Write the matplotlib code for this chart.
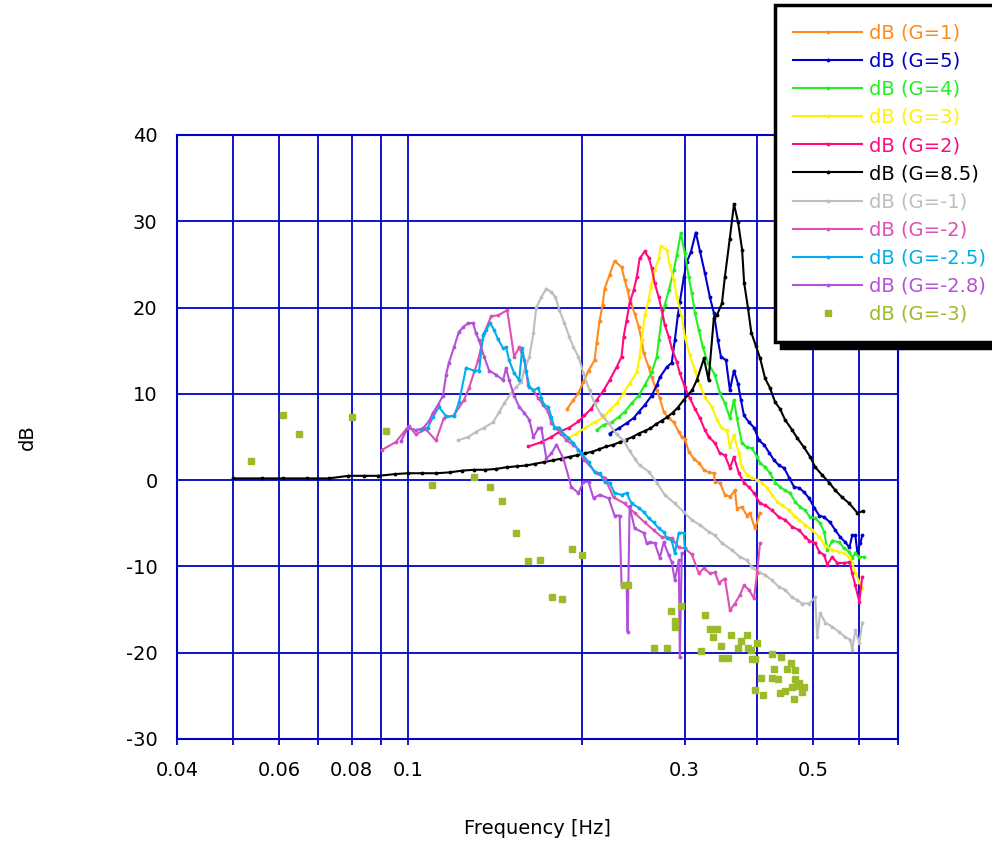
import matplotlib
matplotlib.use('Agg')
import matplotlib.pyplot as plt

plt.rcParams['font.family'] = ['DejaVu Sans']
plt.rcParams['axes.unicode_minus'] = False

# ---- dados: frequencia [Hz] e ganho [dB] de cada ensaio ----
freq_g1 = [0.1884, 0.1930, 0.1969, 0.2008, 0.2049, 0.2099, 0.2116, 0.2141, 0.2167, 0.2184,
           0.2228, 0.2272, 0.2336, 0.2365, 0.2393, 0.2412, 0.2461, 0.2500, 0.2530, 0.2551,
           0.2602, 0.2633, 0.2687, 0.2719, 0.2762, 0.2818, 0.2874, 0.2932, 0.2967, 0.3003,
           0.3051, 0.3112, 0.3175, 0.3239, 0.3304, 0.3370, 0.3384, 0.3452, 0.3521, 0.3592,
           0.3664, 0.3693, 0.3767, 0.3843, 0.3889, 0.3968, 0.4048]
db_g1 = [8.3, 9.3, 10.1, 11.4, 12.7, 13.9, 15.9, 18.5, 20.3, 22.2,
         23.8, 25.4, 24.7, 23.2, 22.0, 20.9, 19.3, 17.8, 16.2, 14.7,
         13.1, 11.9, 10.4, 9.5, 7.9, 7.2, 6.7, 5.6, 5.0, 4.8,
         3.3, 2.5, 2.0, 1.2, 0.9, 0.8, -0.2, -0.3, -1.7, -1.9,
         -1.2, -3.3, -3.1, -4.1, -3.8, -5.6, -3.8]

freq_g5 = [0.2228, 0.2309, 0.2383, 0.2451, 0.2500, 0.2561, 0.2633, 0.2687, 0.2719, 0.2795,
           0.2851, 0.2886, 0.2921, 0.2944, 0.2991, 0.3027, 0.3075, 0.3137, 0.3188, 0.3252,
           0.3317, 0.3370, 0.3425, 0.3466, 0.3536, 0.3592, 0.3649, 0.3708, 0.3752, 0.3798,
           0.3874, 0.3952, 0.4032, 0.4113, 0.4196, 0.4281, 0.4366, 0.4454, 0.4543, 0.4634,
           0.4728, 0.4823, 0.4920, 0.5019, 0.5120, 0.5223, 0.5349, 0.5457, 0.5566, 0.5679,
           0.5770, 0.5838, 0.5909, 0.5956, 0.6028, 0.6075]
db_g5 = [5.4, 6.0, 6.6, 7.2, 7.9, 8.7, 9.8, 11.0, 11.9, 13.1,
         13.6, 16.2, 19.1, 20.6, 23.5, 25.3, 26.4, 28.7, 26.6, 24.0,
         21.2, 19.4, 16.2, 14.3, 13.9, 10.4, 12.7, 11.2, 9.3, 7.5,
         6.7, 6.1, 4.6, 4.1, 3.2, 2.3, 1.7, 1.4, 0.3, -0.8,
         -0.9, -1.4, -2.1, -3.2, -4.1, -4.3, -4.9, -5.8, -6.6, -7.2,
         -7.8, -6.4, -6.4, -8.3, -7.3, -6.4]

freq_g4 = [0.2116, 0.2175, 0.2245, 0.2309, 0.2364, 0.2431, 0.2500, 0.2561, 0.2633, 0.2687,
           0.2708, 0.2740, 0.2773, 0.2818, 0.2874, 0.2909, 0.2955, 0.3003, 0.3051, 0.3087,
           0.3125, 0.3175, 0.3226, 0.3291, 0.3384, 0.3452, 0.3521, 0.3592, 0.3649, 0.3693,
           0.3767, 0.3843, 0.3920, 0.4000, 0.4048, 0.4130, 0.4213, 0.4298, 0.4384, 0.4472,
           0.4561, 0.4653, 0.4747, 0.4842, 0.4939, 0.5039, 0.5140, 0.5223, 0.5286, 0.5391,
           0.5544, 0.5656, 0.5770, 0.5838, 0.5909, 0.6004, 0.6122]
db_g4 = [5.8, 6.4, 6.7, 7.3, 7.9, 8.9, 9.8, 11.0, 12.5, 14.3,
         16.2, 18.8, 20.3, 22.0, 24.3, 26.1, 28.6, 26.3, 23.5, 21.7,
         19.4, 17.4, 15.4, 13.6, 12.2, 10.1, 8.9, 7.2, 9.3, 7.2,
         4.3, 3.8, 3.7, 2.7, 2.0, 1.5, 0.8, -0.3, -0.8, -1.2,
         -1.5, -2.5, -3.1, -3.5, -4.3, -4.4, -5.0, -6.0, -8.1, -7.0,
         -7.2, -7.9, -8.3, -9.0, -8.5, -8.9, -8.9]

freq_g3 = [0.1892, 0.1953, 0.2016, 0.2099, 0.2175, 0.2228, 0.2291, 0.2355, 0.2412, 0.2481,
           0.2510, 0.2530, 0.2561, 0.2602, 0.2623, 0.2665, 0.2708, 0.2729, 0.2795, 0.2829,
           0.2874, 0.2909, 0.2967, 0.3003, 0.3063, 0.3125, 0.3188, 0.3252, 0.3343, 0.3411,
           0.3479, 0.3550, 0.3592, 0.3649, 0.3723, 0.3767, 0.3843, 0.3920, 0.4000, 0.4080,
           0.4163, 0.4246, 0.4332, 0.4418, 0.4543, 0.4634, 0.4728, 0.4842, 0.4978, 0.5120,
           0.5244, 0.5391, 0.5544, 0.5656, 0.5770, 0.5838, 0.5909, 0.6004, 0.6075]
db_g3 = [4.9, 5.4, 6.0, 6.7, 7.3, 8.1, 8.9, 10.1, 11.2, 12.5,
         14.3, 16.2, 19.1, 20.9, 22.4, 24.3, 25.7, 27.1, 26.7, 24.9,
         23.2, 21.2, 18.9, 16.6, 14.5, 12.7, 11.0, 9.6, 8.5, 7.0,
         6.0, 5.8, 3.8, 5.2, 3.1, 1.5, 0.6, 0.3, 0.0, -0.3,
         -0.9, -1.7, -2.5, -2.9, -3.5, -4.1, -4.6, -5.2, -5.8, -6.6,
         -7.6, -8.1, -8.3, -8.5, -8.9, -9.6, -10.8, -11.8, -12.5]

freq_g2 = [0.1613, 0.1699, 0.1768, 0.1825, 0.1899, 0.1969, 0.2016, 0.2073, 0.2116, 0.2175,
           0.2228, 0.2291, 0.2336, 0.2355, 0.2383, 0.2412, 0.2451, 0.2481, 0.2510, 0.2561,
           0.2602, 0.2633, 0.2665, 0.2708, 0.2740, 0.2773, 0.2818, 0.2851, 0.2909, 0.2944,
           0.3003, 0.3063, 0.3125, 0.3188, 0.3252, 0.3304, 0.3384, 0.3452, 0.3521, 0.3592,
           0.3649, 0.3723, 0.3798, 0.3874, 0.3952, 0.4048, 0.4130, 0.4246, 0.4366, 0.4472,
           0.4597, 0.4728, 0.4842, 0.4920, 0.5039, 0.5120, 0.5223, 0.5286, 0.5391, 0.5500,
           0.5656, 0.5770, 0.5838, 0.5909, 0.6004, 0.6075]
db_g2 = [3.9, 4.4, 5.0, 5.6, 6.1, 6.8, 7.5, 8.3, 9.3, 10.4,
         11.6, 13.1, 14.3, 16.6, 18.5, 20.5, 22.0, 23.5, 25.7, 26.5,
         25.8, 24.6, 22.8, 21.2, 19.7, 18.0, 16.6, 15.3, 13.7, 12.4,
         10.8, 9.5, 8.3, 7.2, 5.8, 5.0, 4.3, 3.1, 2.9, 1.4,
         2.7, 0.8, -0.3, -0.8, -1.5, -2.7, -2.9, -3.5, -4.3, -4.6,
         -5.4, -5.8, -6.6, -7.0, -7.3, -8.3, -8.7, -9.8, -8.9, -9.6,
         -9.6, -9.5, -10.8, -12.2, -14.1, -11.2]

freq_g85 = [0.050, 0.056, 0.061, 0.067, 0.073, 0.079, 0.084, 0.089, 0.095, 0.100,
            0.106, 0.112, 0.118, 0.124, 0.130, 0.136, 0.142, 0.148, 0.154, 0.160,
            0.166, 0.172, 0.178, 0.184, 0.190, 0.196, 0.202, 0.208, 0.214, 0.220,
            0.226, 0.232, 0.238, 0.244, 0.250, 0.256, 0.262, 0.268, 0.274, 0.280,
            0.286, 0.292, 0.299, 0.309, 0.315, 0.324, 0.330,
            0.337, 0.341, 0.348, 0.352, 0.359, 0.365, 0.371, 0.377, 0.380, 0.386,
            0.391, 0.398, 0.405, 0.413, 0.421, 0.430, 0.438, 0.447, 0.460, 0.469,
            0.482, 0.494, 0.504, 0.518, 0.533, 0.546, 0.561, 0.577, 0.596, 0.608]
db_g85 = [0.2, 0.2, 0.2, 0.2, 0.2, 0.5, 0.5, 0.5, 0.7, 0.8,
          0.8, 0.8, 0.9, 1.1, 1.2, 1.2, 1.3, 1.5, 1.6, 1.7,
          1.9, 2.1, 2.3, 2.5, 2.7, 2.9, 3.1, 3.3, 3.6, 3.9,
          4.1, 4.4, 4.7, 5.0, 5.4, 5.7, 6.0, 6.5, 6.9, 7.3,
          7.8, 8.4, 9.3, 10.4, 11.6, 14.1, 11.6,
          18.8, 19.1, 20.5, 23.5, 28.0, 32.0, 29.9, 26.7, 22.9, 19.9,
          17.1, 15.6, 14.1, 11.8, 10.7, 9.0, 8.3, 7.0, 5.8, 4.9,
          3.8, 2.7, 1.5, 0.6, -0.3, -1.2, -2.0, -2.7, -3.8, -3.6]

freq_gm1 = [0.1220, 0.1270, 0.1311, 0.1354, 0.1403, 0.1437, 0.1466, 0.1507, 0.1538, 0.1569,
            0.1588, 0.1620, 0.1646, 0.1665, 0.1699, 0.1733, 0.1768, 0.1797, 0.1825, 0.1862,
            0.1899, 0.1930, 0.1969, 0.2008, 0.2057, 0.2099, 0.2158, 0.2219, 0.2291, 0.2355,
            0.2412, 0.2461, 0.2510, 0.2602, 0.2687, 0.2773, 0.2886, 0.2991, 0.3087, 0.3188,
            0.3304, 0.3384, 0.3479, 0.3620, 0.3738, 0.3843, 0.3920, 0.4032, 0.4130, 0.4246,
            0.4366, 0.4472, 0.4597, 0.4690, 0.4784, 0.4920, 0.5039, 0.5080, 0.5140, 0.5244,
            0.5391, 0.5544, 0.5679, 0.5793, 0.5838, 0.5909, 0.6004, 0.6075]
db_gm1 = [4.6, 5.0, 5.6, 6.1, 6.7, 7.9, 8.9, 10.1, 10.8, 11.4,
          12.7, 14.3, 17.0, 20.0, 21.2, 22.2, 21.8, 21.2, 19.7, 18.2,
          16.6, 15.4, 14.3, 12.4, 10.4, 8.9, 7.5, 6.6, 5.3, 4.6,
          3.4, 2.5, 1.7, 1.0, -0.3, -1.7, -2.7, -3.7, -4.6, -5.2,
          -6.0, -6.4, -7.3, -8.1, -8.9, -9.3, -10.1, -10.7, -11.0, -11.6,
          -12.4, -12.7, -13.6, -13.9, -14.3, -14.3, -13.6, -18.2, -15.4, -16.5,
          -17.0, -17.6, -18.2, -18.5, -19.7, -17.4, -18.9, -16.5]

freq_gm2 = [0.0902, 0.0953, 0.1004, 0.1032, 0.1074, 0.1118, 0.1154, 0.1201, 0.1250, 0.1275,
            0.1322, 0.1354, 0.1392, 0.1431, 0.1484, 0.1525, 0.1556, 0.1588, 0.1613, 0.1646,
            0.1679, 0.1712, 0.1747, 0.1768, 0.1804, 0.1840, 0.1877, 0.1930, 0.1969, 0.2016,
            0.2116, 0.2184, 0.2263, 0.2364, 0.2461, 0.2561, 0.2654, 0.2740, 0.2851, 0.2932,
            0.3003, 0.3087, 0.3175, 0.3239, 0.3317, 0.3384, 0.3438, 0.3521, 0.3592, 0.3664,
            0.3738, 0.3798, 0.3874, 0.3952, 0.4000, 0.4048]
db_gm2 = [3.5, 4.4, 6.3, 5.3, 5.9, 4.6, 7.2, 7.5, 9.3, 10.7,
          13.9, 17.0, 19.0, 19.1, 19.7, 14.3, 15.4, 13.9, 11.0, 10.4,
          9.5, 8.7, 7.9, 6.6, 6.0, 5.4, 4.6, 4.1, 3.5, 2.3,
          0.8, 0.3, -2.0, -2.7, -3.8, -4.9, -5.8, -6.6, -6.7, -7.8,
          -7.9, -8.6, -10.8, -10.2, -10.8, -10.7, -11.9, -11.4, -15.1, -14.3,
          -13.3, -12.2, -12.7, -13.7, -10.8, -7.3]

freq_gm25 = [0.1053, 0.1083, 0.1105, 0.1131, 0.1164, 0.1201, 0.1225, 0.1260, 0.1301, 0.1327,
             0.1348, 0.1364, 0.1386, 0.1409, 0.1431, 0.1460, 0.1477, 0.1495, 0.1525, 0.1556,
             0.1575, 0.1600, 0.1620, 0.1646, 0.1679, 0.1699, 0.1719, 0.1747, 0.1768, 0.1789,
             0.1825, 0.1855, 0.1892, 0.1930, 0.1969, 0.1992, 0.2049, 0.2099, 0.2141, 0.2184,
             0.2228, 0.2272, 0.2336, 0.2383, 0.2431, 0.2500, 0.2551, 0.2602, 0.2654, 0.2708,
             0.2762, 0.2795, 0.2851, 0.2886, 0.2932, 0.2991, 0.3003]
db_gm25 = [5.8, 6.1, 7.3, 8.5, 7.4, 7.4, 9.0, 13.0, 12.7, 12.7,
           16.8, 17.4, 18.2, 17.4, 16.3, 15.3, 15.4, 13.9, 12.4, 11.6,
           15.3, 12.7, 10.8, 10.4, 10.7, 9.5, 8.7, 8.5, 7.3, 6.1,
           6.1, 5.4, 4.9, 4.3, 3.5, 3.1, 2.1, 0.9, 0.8, -0.2,
           -0.3, -1.5, -1.7, -1.5, -2.7, -3.2, -3.7, -4.4, -4.9, -5.6,
           -6.0, -6.7, -7.0, -8.5, -6.1, -6.1, -7.9]

freq_gm28 = [0.0973, 0.1000, 0.1032, 0.1062, 0.1087, 0.1105, 0.1127, 0.1150, 0.1164, 0.1177,
             0.1201, 0.1225, 0.1245, 0.1270, 0.1296, 0.1311, 0.1327, 0.1354, 0.1381, 0.1420,
             0.1460, 0.1477, 0.1495, 0.1525, 0.1556, 0.1588, 0.1620, 0.1646, 0.1679, 0.1699,
             0.1733, 0.1768, 0.1804, 0.1855, 0.1914, 0.1969, 0.2008, 0.2049, 0.2090, 0.2141,
             0.2219, 0.2272, 0.2318, 0.2336, 0.2383, 0.2393, 0.2412, 0.2461, 0.2551, 0.2581,
             0.2612, 0.2665, 0.2719, 0.2762, 0.2818, 0.2851, 0.2886, 0.2932, 0.2944, 0.2967]
db_gm28 = [4.5, 6.1, 5.8, 6.0, 6.8, 7.8, 8.7, 9.8, 12.2, 13.6,
           15.4, 17.2, 17.7, 18.2, 18.2, 17.0, 16.2, 14.3, 12.7, 12.2,
           11.6, 13.0, 11.6, 9.8, 8.5, 7.8, 7.0, 5.0, 6.0, 6.1,
           2.5, 3.1, 4.1, 2.5, -0.8, -1.5, -0.2, -0.2, -2.1, -1.7,
           -2.1, -4.1, -4.1, -12.2, -12.2, -17.6, -3.0, -5.6, -6.1, -7.3,
           -7.2, -7.3, -9.0, -7.2, -8.7, -9.5, -11.6, -9.3, -20.5, -8.5]

freq_gm3 = [0.0537, 0.0610, 0.0650, 0.0800, 0.0916, 0.1100, 0.1301, 0.1387, 0.1454, 0.1538,
            0.1613, 0.1692, 0.1775, 0.1847, 0.1921, 0.2000, 0.2355, 0.2393, 0.2654, 0.2795,
            0.2840, 0.2886, 0.2886, 0.2955, 0.3200, 0.3252, 0.3317, 0.3357, 0.3411, 0.3465,
            0.3479, 0.3564, 0.3606, 0.3708, 0.3752, 0.3843, 0.3859, 0.3905, 0.3920, 0.3968,
            0.3968, 0.4000, 0.4064, 0.4097, 0.4246, 0.4246, 0.4280, 0.4349, 0.4384, 0.4401,
            0.4472, 0.4508, 0.4579, 0.4597, 0.4634, 0.4653, 0.4653, 0.4690, 0.4728, 0.4784,
            0.4823]
db_gm3 = [2.2, 7.5, 5.4, 7.3, 5.7, -0.6, 0.4, -0.8, -2.4, -6.1,
          -9.4, -9.2, -13.6, -13.8, -8.0, -8.7, -12.2, -12.2, -19.4, -19.4,
          -15.2, -16.3, -17.0, -14.6, -19.8, -15.6, -17.3, -18.2, -17.3, -19.2,
          -20.6, -20.6, -18.0, -19.4, -18.6, -18.0, -19.4, -19.7, -20.7, -20.7,
          -24.3, -18.9, -22.9, -24.9, -20.2, -22.9, -21.9, -23.1, -24.7, -20.5,
          -24.4, -21.9, -21.2, -24.0, -25.4, -22.0, -23.1, -23.8, -23.5, -24.6,
          -24.0]

# eixo x: posicoes das linhas de grade e rotulos
x_grade = [0.04, 0.05, 0.06, 0.07, 0.08, 0.09, 0.1, 0.2, 0.3, 0.4, 0.5, 0.6, 0.7]
x_rotulos = ['0.04', '', '0.06', '', '0.08', '', '0.1', '', '0.3', '', '0.5', '', '']
y_grade = [40, 30, 20, 10, 0, -10, -20, -30]

series = [
    ('dB (G=1)', freq_g1, db_g1, '#FF8A1E'),
    ('dB (G=5)', freq_g5, db_g5, '#0000CC'),
    ('dB (G=4)', freq_g4, db_g4, '#22F022'),
    ('dB (G=3)', freq_g3, db_g3, '#FFF200'),
    ('dB (G=2)', freq_g2, db_g2, '#FF0A80'),
    ('dB (G=8.5)', freq_g85, db_g85, '#000000'),
    ('dB (G=-1)', freq_gm1, db_gm1, '#BEBEBE'),
    ('dB (G=-2)', freq_gm2, db_gm2, '#DD50B5'),
    ('dB (G=-2.5)', freq_gm25, db_gm25, '#00AEEF'),
    ('dB (G=-2.8)', freq_gm28, db_gm28, '#B550D8'),
]
cor_gm3 = '#9BBB2B'
azul = '#0000CC'

fig = plt.figure(figsize=(9.92, 8.43), dpi=100)
ax = fig.add_axes([177 / 992, 1 - 739 / 843, (898 - 177) / 992, (739 - 135) / 843])

cores = []
for nome, f, db, cor in series:
    ax.plot(f, db, color=cor, lw=1.5, marker='.', ms=3.5, label=nome)
    cores.append(cor)
ax.plot(freq_gm3, db_gm3, ls='none', marker='s', ms=5, color=cor_gm3,
        mec=cor_gm3, label='dB (G=-3)')
cores.append(cor_gm3)

ax.set_xscale('log')
ax.set_xlim(0.04, 0.7)
ax.set_ylim(-30, 40)
ax.set_xticks(x_grade, x_rotulos)
ax.minorticks_off()
ax.set_yticks(y_grade)
ax.grid(True, color=azul, lw=1.3)
ax.set_axisbelow(True)
for s in ax.spines.values():
    s.set_color(azul)
    s.set_linewidth(1.5)
ax.tick_params(axis='x', direction='out', length=4, width=1.3, color=azul,
               labelsize=14, pad=12)
ax.tick_params(axis='y', direction='out', length=0, labelsize=14, pad=14)

ax.set_xlabel('Frequency [Hz]', fontsize=14)
ax.xaxis.set_label_coords(0.5, -0.133)
ax.set_ylabel('dB', fontsize=14)
ax.yaxis.set_label_coords(-0.195, 0.5)

leg = ax.legend(loc='upper left', bbox_to_anchor=(775 / 992, 1 - 5 / 843),
                bbox_transform=fig.transFigure, borderaxespad=0, fontsize=14,
                numpoints=1, handlelength=3.5, handletextpad=0.36,
                labelspacing=0.47, borderpad=0.95, fancybox=False,
                shadow={'ox': 4, 'oy': -4, 'color': 'black', 'alpha': 1},
                framealpha=1)
leg.get_frame().set_edgecolor('black')
leg.get_frame().set_linewidth(2.5)
for txt, cor in zip(leg.get_texts(), cores):
    txt.set_color(cor)

fig.savefig('out.png', dpi=100)
